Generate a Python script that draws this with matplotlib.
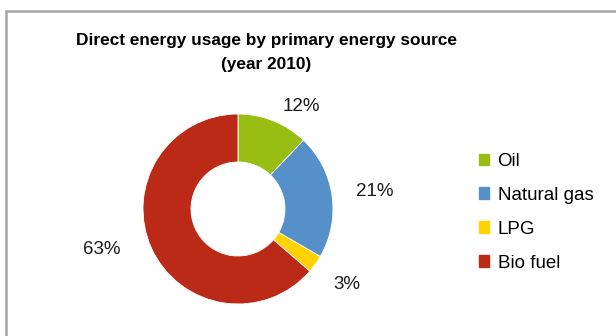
import matplotlib.pyplot as plt
import matplotlib.patches as mpatches
import numpy as np

plt.rcParams['font.family'] = ['Liberation Sans', 'DejaVu Sans']

sources = ['Oil', 'Natural gas', 'LPG', 'Bio fuel']
shares = [12, 21, 3, 63]
colors = ['#98be14', '#5590c9', '#ffd200', '#bb2a17']
# nudges (px, right / down) for the percent labels, as placed in the original
label_nudge = [(14, 21), (5, 1), (1, -2), (-15, -15)]

W, H = 616, 336
fig = plt.figure(figsize=(W / 100, H / 100), dpi=100)
ax = fig.add_axes([0, 0, 1, 1])

# chart frame (cut off on the right and bottom)
fig.patches.append(mpatches.Rectangle((6 / W, -0.1), 1.2, (H - 11) / H + 0.1,
                                      transform=fig.transFigure, fill=False,
                                      edgecolor='#a6a6a6', linewidth=1.8))

wedges, _, autotexts = ax.pie(shares, colors=colors, startangle=90, counterclock=False,
                              center=(238, H - 209), radius=95, frame=True,
                              wedgeprops=dict(width=48, edgecolor='white', linewidth=0.6),
                              autopct=lambda p: '%d%%' % round(p * sum(shares) / 100),
                              pctdistance=1.4, textprops=dict(fontsize=13.5, color='#1a1a1a'))
for t, (dx, dy) in zip(autotexts, label_nudge):
    x, y = t.get_position()
    t.set_position((x + dx, y - dy))

ax.set_xlim(0, W)
ax.set_ylim(0, H)
ax.set_aspect('equal')
ax.axis('off')

fig.text(266 / W, 1 - 41 / H, 'Direct energy usage by primary energy source',
         ha='center', va='center', fontsize=12.4, fontweight='bold')
fig.text(266 / W, 1 - 65 / H, '(year 2010)', ha='center', va='center',
         fontsize=12.4, fontweight='bold')

handles = [mpatches.Patch(color=c) for c in colors]
fig.legend(handles, sources, loc='upper left', bbox_to_anchor=(462 / W, 1 - 136 / H),
           frameon=False, fontsize=13.5, handlelength=0.55, handleheight=0.55,
           handletextpad=0.45, labelspacing=0.9)

fig.savefig('out.png', dpi=100)
